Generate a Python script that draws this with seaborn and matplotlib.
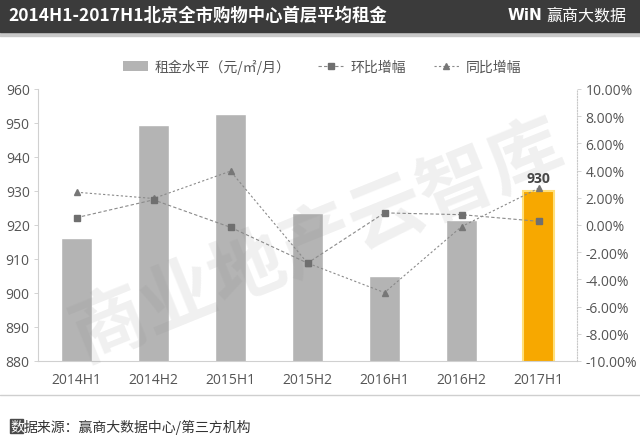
import matplotlib
matplotlib.use("Agg")
import matplotlib.pyplot as plt
import seaborn as sns
import numpy as np
import pandas as pd
from matplotlib.patches import Rectangle, Patch
from matplotlib.lines import Line2D
from matplotlib.ticker import FuncFormatter

categories = ["2014H1", "2014H2", "2015H1", "2015H2", "2016H1", "2016H2", "2017H1"]
rent = [916.3, 949.5, 952.6, 923.5, 905.1, 921.4, 930.0]
qoq = [0.54, 1.85, -0.17, -2.80, 0.89, 0.76, 0.27]      # 环比增幅 (%)
yoy = [2.41, 1.95, 3.96, -2.80, -4.97, -0.12, 2.70]     # 同比增幅 (%)
left_ticks = [880, 890, 900, 910, 920, 930, 940, 950, 960]
right_ticks = [-10, -8, -6, -4, -2, 0, 2, 4, 6, 8, 10]

title = "2014H1-2017H1北京全市购物中心首层平均租金"
legend_labels = ["租金水平（元/㎡/月）", "环比增幅", "同比增幅"]
source = "数据来源：赢商大数据中心/第三方机构"

sns.set_theme(style="white")
plt.rcParams['font.family'] = ['Noto Sans CJK SC', 'DejaVu Sans']

W, H = 640, 439
fig = plt.figure(figsize=(W/100, H/100), dpi=100)
fig.patch.set_facecolor("white")

# title bar
fig.patches.append(Rectangle((0, 1-37/H), 1, 4/H, transform=fig.transFigure,
                             color="#c8c8c8", zorder=0))
fig.patches.append(Rectangle((0, 1-33/H), 1, 33/H, transform=fig.transFigure,
                             color="#3b3b3b", zorder=1))
fig.text(8/W, 1-16/H, title, color="white", fontsize=12.5, fontweight="bold",
         va="center", ha="left")
fig.text(508/W, 1-16/H, "WiN", color="white", fontsize=11, fontweight="bold",
         va="center", ha="left", family=["DejaVu Sans"])
fig.text(546/W, 1-16/H, "赢商大数据", color="white", fontsize=11.5,
         va="center", ha="left")

ax = fig.add_axes([38/W, 1-362/H, (577-38)/W, (362-90)/H])
df = pd.DataFrame({"cat": categories, "rent": rent})
colors = ["#b4b4b4"] * (len(categories) - 1) + ["#f7a800"]
sns.barplot(data=df, x="cat", y="rent", hue="cat", palette=colors, legend=False,
            width=0.40, saturation=1, ax=ax, zorder=2)
bars = ax.patches
bars[-1].set_edgecolor("#ffe07a")
bars[-1].set_linewidth(1.5)
ax.set_ylim(880, 960)
ax.set_xlim(-0.5, len(categories)-0.5)
ax.set_yticks(left_ticks)
ax.set_xlabel("")
ax.set_ylabel("")
ax.tick_params(axis="y", labelsize=10, colors="#555555", length=3, width=0.6,
               color="#cccccc", pad=3)
ax.tick_params(axis="x", labelsize=10, colors="#555555", length=0, pad=8)
for lab in ax.get_xticklabels() + ax.get_yticklabels():
    lab.set_family(["Open Sans", "DejaVu Sans"])
for s in ["top", "right"]:
    ax.spines[s].set_visible(False)
ax.spines["left"].set_color("#d0d0d0")
ax.spines["left"].set_linewidth(0.8)
ax.spines["bottom"].set_color("#d0d0d0")
ax.spines["bottom"].set_linewidth(0.8)

# data label
ax.text(len(categories)-1, rent[-1] + 1.8, f"{rent[-1]:.0f}", ha="center", va="bottom",
        fontsize=10, fontweight="bold", color="#404040", family=["Open Sans", "DejaVu Sans"])

ax2 = ax.twinx()
ax2.plot(categories, qoq, linestyle=(0, (3, 2)), color="#8a8a8a", lw=0.8,
         marker="s", markersize=5, markerfacecolor="#6f6f6f", markeredgecolor="#6f6f6f",
         zorder=4)
ax2.plot(categories, yoy, linestyle=(0, (2, 2)), color="#8a8a8a", lw=0.8,
         marker="^", markersize=5, markerfacecolor="#777777", markeredgecolor="#777777",
         zorder=3)
ax2.set_ylim(-10, 10)
ax2.set_yticks(right_ticks)
ax2.yaxis.set_major_formatter(FuncFormatter(lambda v, p: f"{v:.2f}%"))
ax2.tick_params(axis="y", labelsize=10, colors="#555555", length=3, width=0.6,
                color="#cccccc", pad=3)
for lab in ax2.get_yticklabels():
    lab.set_family(["Open Sans", "DejaVu Sans"])
for s in ["top", "left", "bottom"]:
    ax2.spines[s].set_visible(False)
ax2.spines["right"].set_color("#c8c8c8")
ax2.spines["right"].set_linestyle((0, (1, 1.5)))
ax2.spines["right"].set_linewidth(0.8)

# watermark
fig.text(318/W, 1-242/H, "商业地产云智库", fontsize=54, fontweight="bold",
         color="#8c8c8c", alpha=0.13, rotation=22, ha="center", va="center",
         zorder=10)

# legend
handles = [
    Patch(facecolor="#b4b4b4", edgecolor="none"),
    Line2D([], [], linestyle=(0, (3, 2)), color="#8a8a8a", lw=0.8, marker="s",
           markersize=4, markerfacecolor="#6f6f6f", markeredgecolor="#6f6f6f"),
    Line2D([], [], linestyle=(0, (2, 2)), color="#8a8a8a", lw=0.8, marker="^",
           markersize=4, markerfacecolor="#777777", markeredgecolor="#777777"),
]
fig.legend(handles, legend_labels, loc="center", bbox_to_anchor=(322/W, 1-67/H),
           ncol=3, frameon=False, fontsize=10, handlelength=1.8, handleheight=0.7,
           columnspacing=2.0, handletextpad=0.5, labelcolor="#555555")

# footer
fig.add_artist(Line2D([0, 1], [1-396/H, 1-396/H], transform=fig.transFigure,
                      color="#cfcfcf", lw=1))
fig.patches.append(Rectangle((10/W, 1-434/H), 13/W, 14/H, transform=fig.transFigure,
                             color="#4a4a4a", zorder=1))
fig.text(10.5/W, 1-427/H, "数", color="white", fontsize=10, va="center", ha="left")
fig.text(24/W, 1-427/H, source[1:], color="#333333", fontsize=10, va="center", ha="left")

fig.savefig("out.png", dpi=100)
